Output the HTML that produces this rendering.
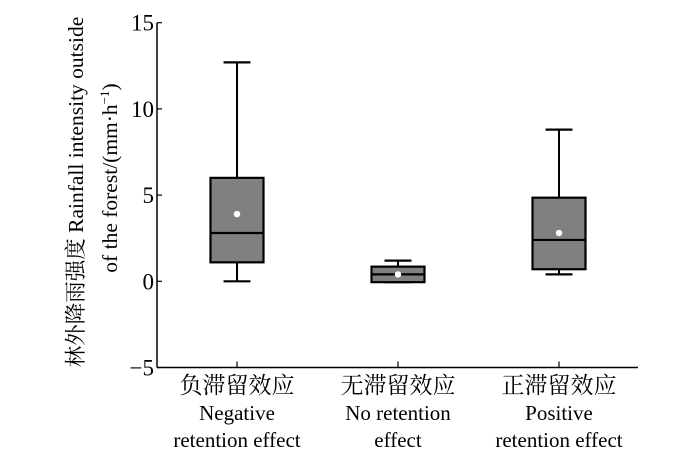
<!DOCTYPE html>
<html><head><meta charset="utf-8"><style>
body{margin:0;background:#fff}
svg text{font-family:"Liberation Serif","Noto Serif CJK SC","Noto Sans CJK SC",serif;fill:#000}
</style></head><body>
<svg width="700" height="456" viewBox="0 0 700 456" xmlns="http://www.w3.org/2000/svg">
<g id="axes"></g><g id="boxes"></g>
<text transform="translate(83,192) rotate(-90)" text-anchor="middle" font-size="21.5">林外降雨强度 Rainfall intensity outside</text>
<text transform="translate(117,178) rotate(-90)" text-anchor="middle" font-size="21.5">of the forest/(mm·h<tspan dy="-8" font-size="13">−1</tspan><tspan dy="8">)</tspan></text>
</svg>
<script>
const categoriesZh=["负滞留效应","无滞留效应","正滞留效应"];
const categoriesEn1=["Negative","No retention","Positive"];
const categoriesEn2=["retention effect","effect","retention effect"];
const whiskerLow=[0,-0.05,0.4];
const q1=[1.1,-0.05,0.7];
const medians=[2.8,0.4,2.4];
const q3=[6.0,0.85,4.85];
const whiskerHigh=[12.7,1.2,8.8];
const means=[3.9,0.4,2.8];
const yTicks=[-5,0,5,10,15];
const NS="http://www.w3.org/2000/svg";
const X0=157,X1=638,YT=22.7,YB=367.5;
const y=v=>YB-(v+5)/20*(YB-YT);
const x=i=>237+i*161;
function mk(t,a,p){const e=document.createElementNS(NS,t);for(const k in a)e.setAttribute(k,a[k]);p.appendChild(e);return e;}
const ax=document.getElementById('axes'),bx=document.getElementById('boxes');
let l=mk('line',{x1:X0,y1:YT,x2:X0,y2:YB,stroke:'#000','stroke-width':1.5},ax);


l=mk('line',{x1:X0,y1:YB,x2:X1,y2:YB,stroke:'#000','stroke-width':1.5},ax);


yTicks.forEach(v=>{
 const t=mk('line',{x1:X0,y1:y(v),x2:X0+5,y2:y(v),stroke:'#000','stroke-width':1.2},ax);
 
 
 const tx=mk('text',{x:X0-3,y:y(v)+8,'text-anchor':'end','font-size':23},ax);
 tx.textContent=v<0?'−'+(-v):String(v);
 
 
});
categoriesZh.forEach((c,i)=>{
 const cx=x(i);
 const t=mk('line',{x1:cx,y1:YB,x2:cx,y2:YB-6,stroke:'#000','stroke-width':1.2},ax);
 
 
 [[c,393,23],[categoriesEn1[i],420,21],[categoriesEn2[i],447,21]].forEach(([s,yy,fs])=>{
  const tx=mk('text',{x:cx,y:yy,'text-anchor':'middle','font-size':fs},ax);
  tx.textContent=s;
  
  
 });
 const g=mk('g',{},bx);
 
 
 const w=mk('line',{x1:cx,y1:y(whiskerLow[i]),x2:cx,y2:y(whiskerHigh[i]),stroke:'#000','stroke-width':2},g);
 
 
 [whiskerLow[i],whiskerHigh[i]].forEach(v=>{
  const cap=mk('line',{x1:cx-13.5,y1:y(v),x2:cx+13.5,y2:y(v),stroke:'#000','stroke-width':2.2},g);
  
  
 });
 const r=mk('rect',{x:cx-26.5,y:y(q3[i]),width:53,height:y(q1[i])-y(q3[i]),fill:'#808080',stroke:'#000','stroke-width':2.2},g);
 
 
 const m=mk('line',{x1:cx-26.5,y1:y(medians[i]),x2:cx+26.5,y2:y(medians[i]),stroke:'#000','stroke-width':2.2},g);
 
 
 const d=mk('circle',{cx:cx,cy:y(means[i]),r:3.2,fill:'#fff'},g);
 
 
});
</script>
</body></html>
